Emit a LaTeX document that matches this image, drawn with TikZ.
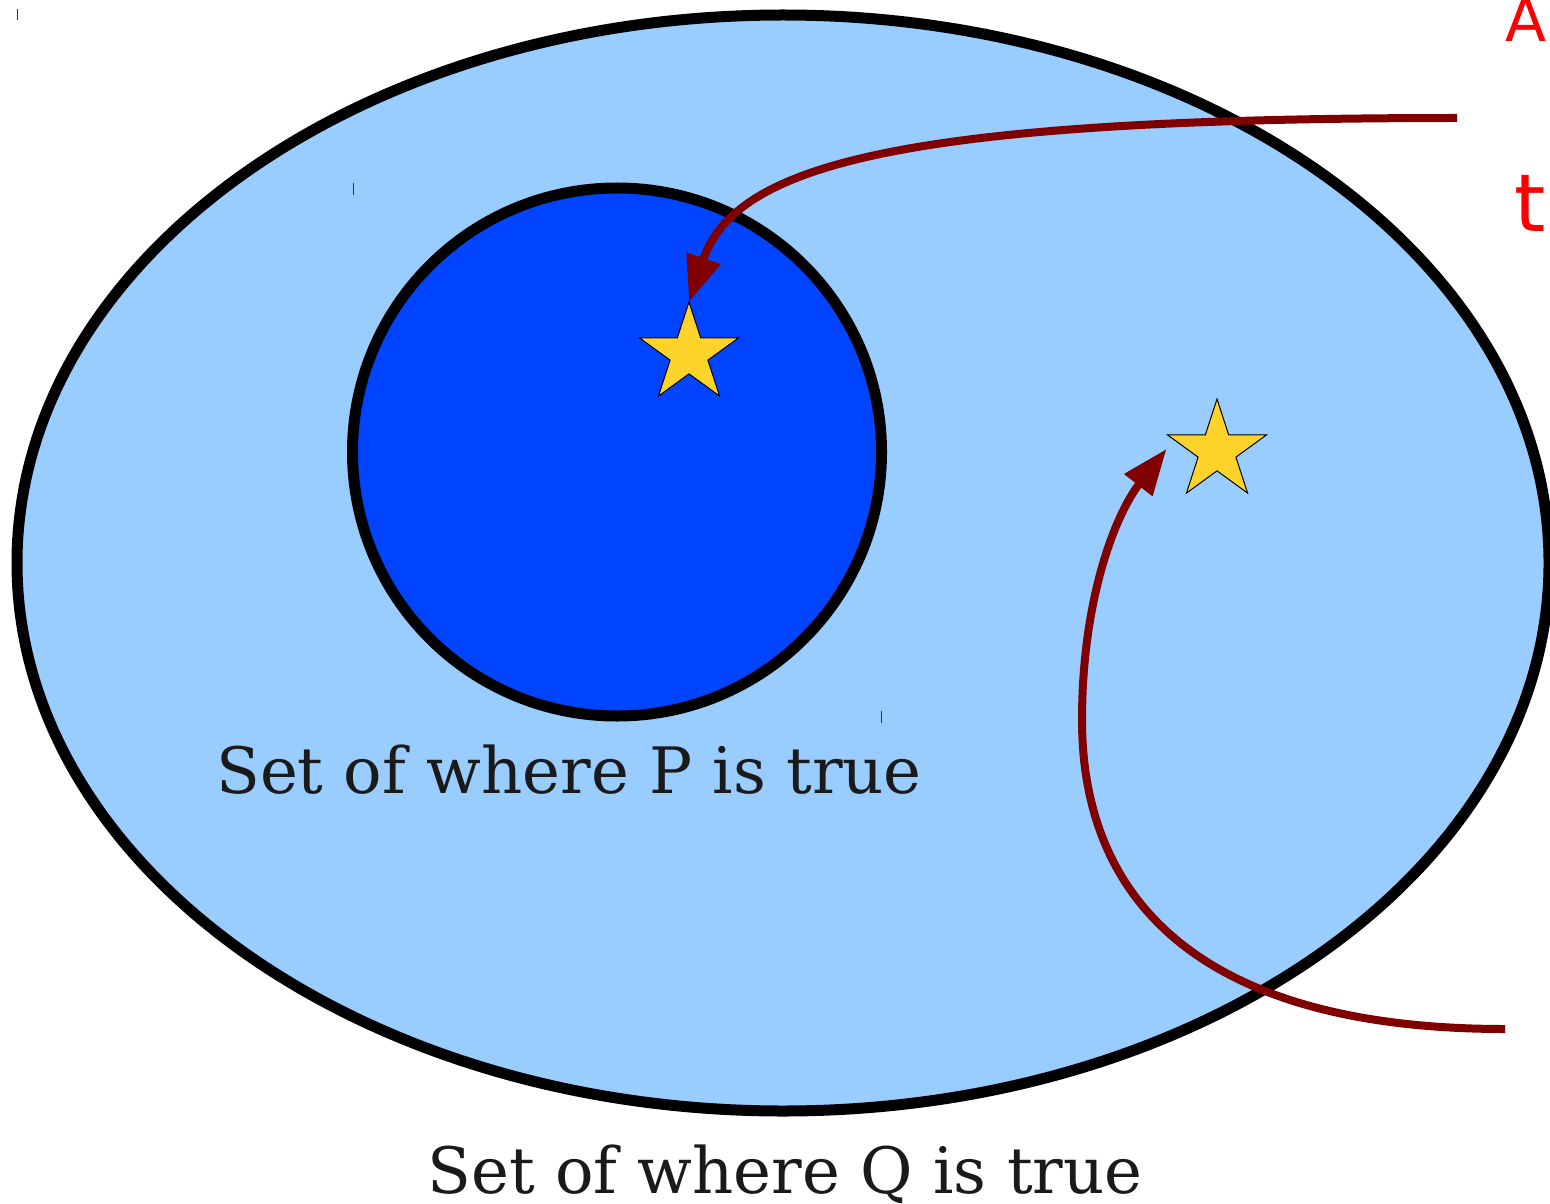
\documentclass[tikz,border=0pt]{standalone}
\usepackage{fontspec}
\setmainfont{DejaVu Serif}
\newfontfamily\handfont{DejaVu Sans}
\usetikzlibrary{arrows.meta,shapes.geometric,calc}
\definecolor{outerfill}{HTML}{99CCFF}
\definecolor{innerfill}{HTML}{0044FF}
\definecolor{starfill}{HTML}{FFD42A}
\definecolor{arrowred}{HTML}{800000}
\definecolor{txtgray}{HTML}{1A1A1A}
\definecolor{handred}{HTML}{FF0000}
\begin{document}
\begin{tikzpicture}[x=0.5pt,y=-0.5pt,
  setshape/.style={draw=black,line width=5.5pt,inner sep=0pt,outer sep=0pt},
  starshape/.style={star,star points=5,star point ratio=2.618,draw=black,line width=0.5pt,
     fill=starfill,minimum size=52pt,inner sep=0pt,outer sep=0pt},
  settext/.style={text=txtgray,font=\fontsize{32pt}{32pt}\selectfont,inner sep=0pt,anchor=base},
  handtext/.style={text=handred,font=\handfont,inner sep=0pt,anchor=base west},
  arr/.style={draw=arrowred,line width=4pt,-{Triangle[length=23pt,width=17pt]}},
  tick/.style={draw=black!80,line width=0.5pt}]
\useasboundingbox (0,0) rectangle (1550,1203);
\clip (0,0) rectangle (1550,1203);
\fill[white] (0,0) rectangle (1550,1203);
\node[setshape,ellipse,fill=outerfill,minimum width=766pt,minimum height=548pt] (Q) at (783,563) {};
\node[setshape,ellipse,fill=innerfill,minimum width=264.5pt,minimum height=264pt] (P) at (617,452) {};
\node[starshape] (s1) at (689,354) {};
\node[starshape] (s2) at (1217,451) {};
\node[settext] (Ptext) at (569,793) {Set of where P is true};
\node[settext] (Qtext) at (785,1193) {Set of where Q is true};
\node[handtext,font=\handfont\fontsize{30pt}{30pt}\selectfont] (hA) at (1505,42) {A};
\node[handtext,font=\handfont\fontsize{40pt}{40pt}\selectfont] (ht) at (1514,232) {t};
\coordinate (a1start) at (1457,118);
\coordinate (a2start) at (1505,1029);
\coordinate (a2mid) at (1082,720);
\draw[arr] (a1start) .. controls (900,118) and (735,165) .. (s1.north);
\draw[arr] (a2start) .. controls (1200,1029) and (1082,900) .. (a2mid)
   .. controls (1082,600) and (1115,515) .. ($(s2.outer point 2)+(-1,14)$);
\draw[tick] (17,9) -- (17,20);
\draw[tick] (353,183) -- (353,195);
\draw[tick] (881,711) -- (881,723);
\end{tikzpicture}
\end{document}
